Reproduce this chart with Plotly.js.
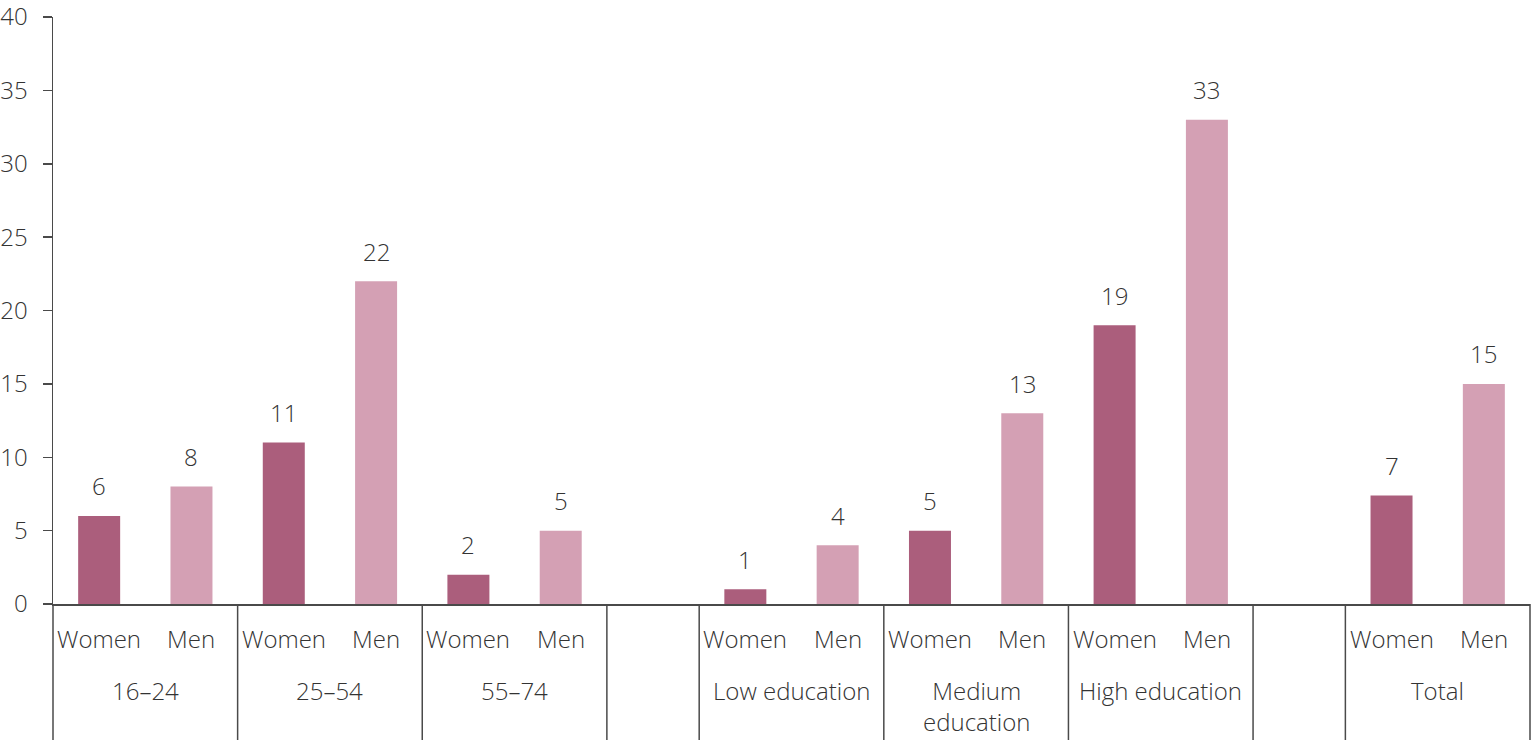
<!DOCTYPE html>
<html>
<head>
<meta charset="utf-8">
<script src="https://cdn.plot.ly/plotly-3.0.1.min.js"></script>
<style>
html,body{margin:0;padding:0;background:#fff;}
#chart{width:1531px;height:740px;}
</style>
</head>
<body>
<div id="chart"></div>
<script>
// ---- data ----
const groups = ['16–24', '25–54', '55–74', 'Low education', 'Medium<br>education', 'High education', 'Total'];
const sexes = ['Women', 'Men'];
const women = [6, 11, 2, 1, 5, 19, 7.4];
const men = [8, 22, 5, 4, 13, 33, 15];
const womenLabels = ['6', '11', '2', '1', '5', '19', '7'];
const menLabels = ['8', '22', '5', '4', '13', '33', '15'];
const gapAfterGroup = ['55–74', 'High education'];
const yTicks = [0, 5, 10, 15, 20, 25, 30, 35, 40];

// ---- styling ----
const FONT = 'Open Sans, Noto Sans, sans-serif';
const FS = 24;
const TXT = '#333333';
const LINE = '#4a4a4a';
const WOMEN_COLOR = '#ab5e7c';
const MEN_COLOR = '#d4a0b4';

// build slots (categories)
const slots = [];
const boundaries = [0];
groups.forEach(g => {
  sexes.forEach(s => slots.push(g + '|' + s));
  boundaries.push(slots.length);
  if (gapAfterGroup.includes(g)) {
    slots.push('gap' + slots.length);
    boundaries.push(slots.length);
  }
});
const nSlots = slots.length;

const W = 1531, H = 740;
const margin = {l: 53, r: 1, t: 17, b: 136};
const plotH = H - margin.t - margin.b;
const py = px => -(px) / plotH; // pixels below axis -> paper y
const txtFont = {family: FONT, size: FS, color: TXT, weight: 300};

const traces = [
  {
    type: 'bar', name: 'Women',
    x: groups.map(g => g + '|Women'), y: women,
    marker: {color: WOMEN_COLOR}, width: 0.455, hoverinfo: 'y'
  },
  {
    type: 'bar', name: 'Men',
    x: groups.map(g => g + '|Men'), y: men,
    marker: {color: MEN_COLOR}, width: 0.455, hoverinfo: 'y'
  }
];

const annotations = [];
// value labels
groups.forEach((g, i) => {
  annotations.push({x: g + '|Women', y: women[i], xref: 'x', yref: 'y', text: womenLabels[i],
    showarrow: false, yanchor: 'middle', yshift: 30, font: txtFont});
  annotations.push({x: g + '|Men', y: men[i], xref: 'x', yref: 'y', text: menLabels[i],
    showarrow: false, yanchor: 'middle', yshift: 30, font: txtFont});
});
// sex labels & group labels
groups.forEach(g => {
  sexes.forEach(s => {
    annotations.push({x: g + '|' + s, y: py(34), xref: 'x', yref: 'paper', text: s,
      showarrow: false, yanchor: 'middle', font: txtFont});
  });
  const idx = slots.indexOf(g + '|Women');
  annotations.push({x: idx + 0.5, y: py(68), xref: 'x', yref: 'paper', text: g,
    showarrow: false, yanchor: 'top', font: txtFont});
});

// divider lines
const shapes = boundaries.map(k => ({
  type: 'line', xref: 'paper', yref: 'paper',
  x0: k / nSlots, x1: k / nSlots, y0: 0, y1: py(margin.b + 5),
  line: {color: LINE, width: 1.5}
}));

const layout = {
  width: W, height: H,
  margin: margin,
  paper_bgcolor: '#ffffff', plot_bgcolor: '#ffffff',
  showlegend: false,
  barmode: 'overlay',
  font: txtFont,
  xaxis: {
    type: 'category', categoryorder: 'array', categoryarray: slots,
    range: [-0.5, nSlots - 0.5],
    showticklabels: false, ticks: '', showgrid: false, zeroline: false,
    showline: true, linecolor: LINE, linewidth: 1.5, fixedrange: true
  },
  yaxis: {
    range: [0, 40], tickvals: yTicks, ticktext: yTicks.map(String),
    showgrid: false, zeroline: false, showline: true, linecolor: LINE, linewidth: 1.5,
    ticks: 'outside', ticklen: 9, tickcolor: LINE, tickwidth: 1.5,
    ticklabelstandoff: 10, ticklabeloverflow: 'allow',
    tickfont: txtFont, fixedrange: true
  },
  annotations: annotations,
  shapes: shapes
};

Plotly.newPlot('chart', traces, layout, {displayModeBar: false, staticPlot: true});
</script>
</body>
</html>
